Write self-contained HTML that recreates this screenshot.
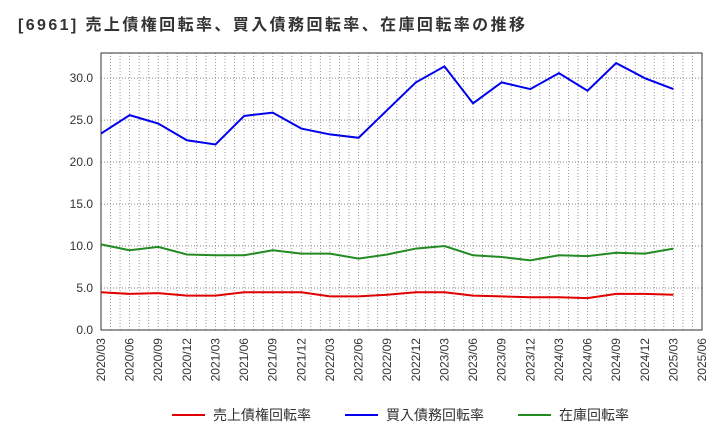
<!DOCTYPE html>
<html><head><meta charset="utf-8"><style>
body{margin:0;background:#fff;}
svg text{font-family:"Liberation Sans","Noto Sans CJK JP",sans-serif;}
</style></head><body>
<svg id="c" width="720" height="440" xmlns="http://www.w3.org/2000/svg">
<text x="18" y="30" font-size="16" font-weight="bold" fill="#333" textLength="507" lengthAdjust="spacing">[6961]  売上債権回転率、買入債務回転率、在庫回転率の推移</text>
<g id="grid"></g><g id="axes"></g><g id="lines"></g>
<g>
<line x1="172" y1="415" x2="205" y2="415" stroke="#e00000" stroke-width="2"/>
<text x="213" y="420" font-size="14" fill="#333">売上債権回転率</text>
<line x1="345" y1="415" x2="378" y2="415" stroke="#0000ee" stroke-width="2"/>
<text x="386" y="420" font-size="14" fill="#333">買入債務回転率</text>
<line x1="518" y1="415" x2="551" y2="415" stroke="#228b22" stroke-width="2"/>
<text x="559" y="420" font-size="14" fill="#333">在庫回転率</text>
</g>
</svg>
<script>
const categories=["2020/03","2020/06","2020/09","2020/12","2021/03","2021/06","2021/09","2021/12","2022/03","2022/06","2022/09","2022/12","2023/03","2023/06","2023/09","2023/12","2024/03","2024/06","2024/09","2024/12","2025/03","2025/06"];
const payables=[23.4,25.6,24.6,22.6,22.1,25.5,25.9,24.0,23.3,22.9,26.2,29.5,31.4,27.0,29.5,28.7,30.6,28.5,31.8,30.0,28.7];
const inventory=[10.2,9.5,9.9,9.0,8.9,8.9,9.5,9.1,9.1,8.5,9.0,9.7,10.0,8.9,8.7,8.3,8.9,8.8,9.2,9.1,9.7];
const receivables=[4.5,4.3,4.4,4.1,4.1,4.5,4.5,4.5,4.0,4.0,4.2,4.5,4.5,4.1,4.0,3.9,3.9,3.8,4.3,4.3,4.2];
const yTicks=[0,5,10,15,20,25,30];
const L=101,R=702,T=53,B=330,YMAX=33;
const NS="http://www.w3.org/2000/svg";
const nMonths=(categories.length-1)*3;
function xm(m){return L+(R-L)*m/nMonths;}
function xs(i){return xm(i*3);}
function ys(v){return B-(B-T)*v/YMAX;}
function mk(tag,attrs,parent){const e=document.createElementNS(NS,tag);for(const k in attrs)e.setAttribute(k,attrs[k]);document.getElementById(parent).appendChild(e);return e;}
for(let m=1;m<nMonths;m++){const e=mk('line',{x1:xm(m),x2:xm(m),y1:T,y2:B,stroke:'#999','stroke-dasharray':'1,2','stroke-width':1},'grid');

}
yTicks.forEach(v=>{if(v>0){const g=mk('line',{x1:L,x2:R,y1:ys(v),y2:ys(v),stroke:'#888','stroke-dasharray':'1,2'},'grid');

}
const t=mk('text',{x:L-8,y:ys(v)+4,'text-anchor':'end','font-size':12,fill:'#333'},'axes');t.textContent=v.toFixed(1);

});
const fr=mk('rect',{x:L,y:T,width:R-L,height:B-T,fill:'none',stroke:'#333'},'axes');


categories.forEach((c,i)=>{const x=xs(i)+4,y=B+8;const t=mk('text',{x:x,y:y,'text-anchor':'end','font-size':12,fill:'#333',transform:`rotate(-90 ${x} ${y})`},'axes');t.textContent=c;

});
[[receivables,'#e00000','receivables-line'],[inventory,'#228b22','inventory-line'],[payables,'#0000ee','payables-line']].forEach(([d,col,n])=>{
const p=mk('polyline',{points:d.map((v,i)=>xs(i)+','+ys(v)).join(' '),fill:'none',stroke:col,'stroke-width':2},'lines');

});
</script>
</body></html>
